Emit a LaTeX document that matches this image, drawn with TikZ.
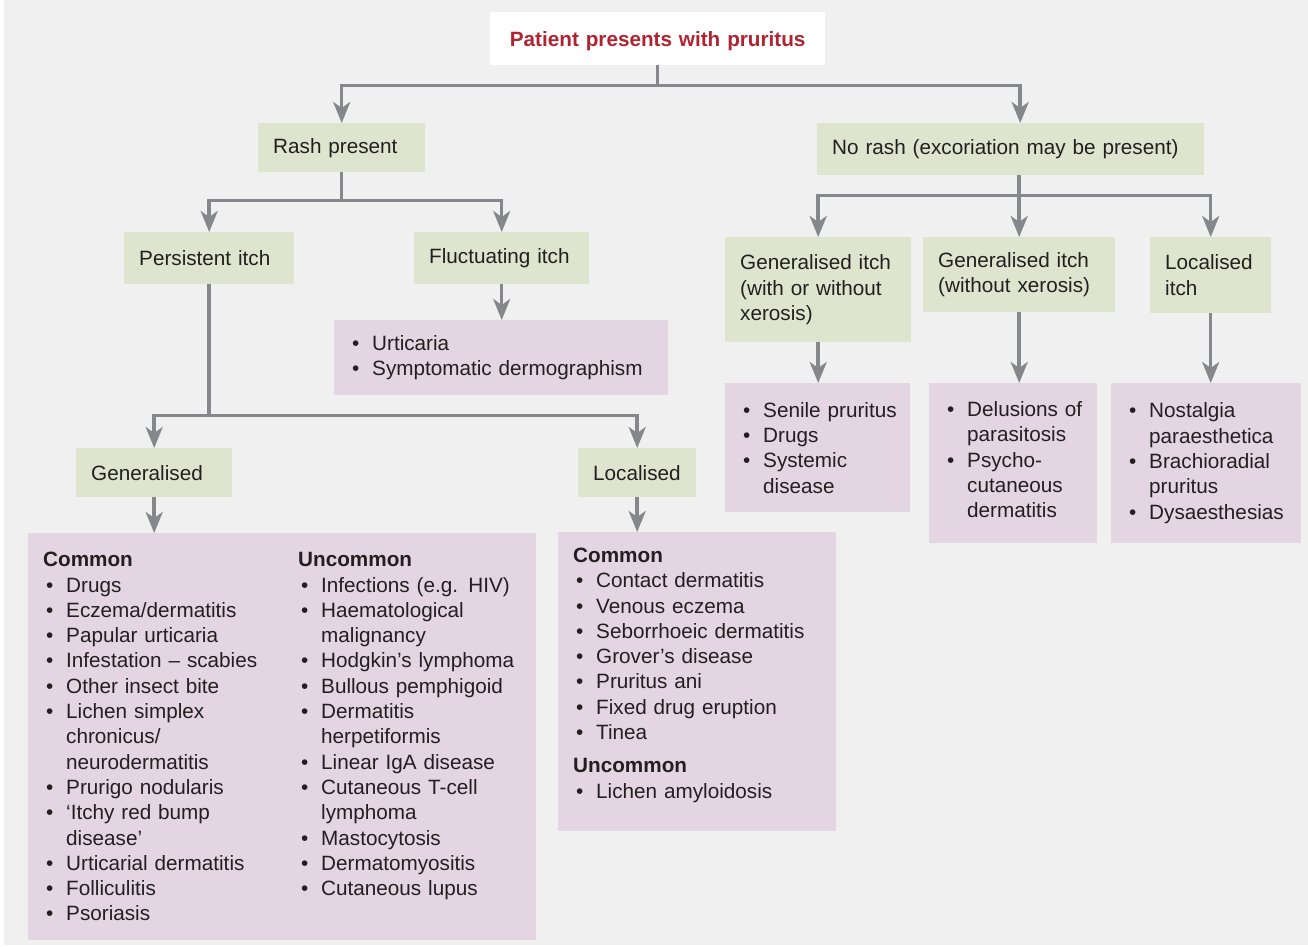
\documentclass[tikz,border=0pt]{standalone}
\usepackage{fontspec}
\setmainfont{Liberation Sans}
\usetikzlibrary{arrows.meta}

\definecolor{pagegrey}{RGB}{240,240,240}
\definecolor{boxgreen}{RGB}{223,228,206}
\definecolor{boxpurple}{RGB}{227,213,226}
\definecolor{linegrey}{RGB}{134,135,139}
\definecolor{titlered}{RGB}{176,36,49}
\definecolor{textdark}{RGB}{35,31,32}

\hyphenpenalty=10000
\exhyphenpenalty=10000

\newcommand\bul{\makebox[23pt][l]{\hspace{3pt}\textbullet}}
\newcommand\ind{\hspace*{23pt}}

\begin{document}
\begin{tikzpicture}[x=1pt, y=-1pt,
    every node/.style={font=\fontsize{20.7}{25.3}\selectfont, text=textdark},
    box/.style={anchor=north west, inner xsep=15pt, inner ysep=3pt, align=left},
    greenbox/.style={box, fill=boxgreen},
    purplebox/.style={box, fill=boxpurple},
    bar/.style={draw=linegrey, line width=3.5pt},
    arr/.style={bar, -{Stealth[length=21pt, width=17pt, inset=6pt]}}]

  \useasboundingbox (0,0) rectangle (1308,946);
  \fill[pagegrey] (4,0) rectangle (1308,945);

  % top
  \node[box, fill=white, text width=305pt, minimum height=53pt, align=center, text=titlered, text depth=0pt,
        font=\bfseries\fontsize{20.7}{25.3}\selectfont] (title) at (490,12) {Patient presents with pruritus};

  \node[greenbox, text width=137pt, minimum height=49pt] (rash) at (258,123) {Rash present};
  \node[greenbox, text width=357pt, minimum height=52pt] (norash) at (817,123) {No rash (excoriation may be present)};

  % rash branch
  \node[greenbox, text width=140pt, minimum height=52pt] (persist) at (124,232) {Persistent itch};
  \node[greenbox, text width=145pt, minimum height=52pt] (fluct) at (414,232) {Fluctuating itch};
  \node[purplebox, text width=304pt, minimum height=75pt] (urtic) at (334,320)
    {\bul Urticaria\\ \bul Symptomatic dermographism};

  \node[greenbox, text width=126pt, minimum height=49pt] (gen) at (76,448) {Generalised};
  \node[greenbox, text width=88pt, minimum height=49pt] (loc) at (578,448) {Localised};

  \node[purplebox, text width=478pt, minimum height=407pt] (genlist) at (28,533)
    {\noindent\parbox[t]{255pt}{\textbf{Common}\\
      \bul Drugs\\
      \bul Eczema/dermatitis\\
      \bul Papular urticaria\\
      \bul Infestation -- scabies\\
      \bul Other insect bite\\
      \bul Lichen simplex\\
      \ind chronicus/\\
      \ind neurodermatitis\\
      \bul Prurigo nodularis\\
      \bul `Itchy red bump\\
      \ind disease'\\
      \bul Urticarial dermatitis\\
      \bul Folliculitis\\
      \bul Psoriasis}%
     \parbox[t]{223pt}{\textbf{Uncommon}\\
      \bul Infections (e.g. HIV)\\
      \bul Haematological\\
      \ind malignancy\\
      \bul Hodgkin's~lymphoma\\
      \bul Bullous pemphigoid\\
      \bul Dermatitis\\
      \ind herpetiformis\\
      \bul Linear IgA disease\\
      \bul Cutaneous T-cell\\
      \ind lymphoma\\
      \bul Mastocytosis\\
      \bul Dermatomyositis\\
      \bul Cutaneous lupus}};

  \node[purplebox, text width=248pt, minimum height=299pt] (loclist) at (558,532)
    {\textbf{Common}\\
     \bul Contact dermatitis\\
     \bul Venous eczema\\
     \bul Seborrhoeic dermatitis\\
     \bul Grover's disease\\
     \bul Pruritus ani\\
     \bul Fixed drug eruption\\
     \bul Tinea\\[8pt]
     \textbf{Uncommon}\\
     \bul Lichen amyloidosis\\[-8pt]\mbox{}};

  % no rash branch
  \node[greenbox, text width=156pt, minimum height=105pt] (gi1) at (725,237)
    {\mbox{Generalised itch}\\ (with or without\\ xerosis)};
  \node[greenbox, text width=162pt, minimum height=75pt] (gi2) at (923,237)
    {\mbox{Generalised itch}\\ (without xerosis)};
  \node[greenbox, text width=91pt, minimum height=76pt] (li) at (1150,237)
    {Localised\\ itch};

  \node[purplebox, text width=155pt, minimum height=129pt] (pl1) at (725,383)
    {\bul \mbox{Senile pruritus}\\ \bul Drugs\\ \bul Systemic\\ \ind disease};
  \node[purplebox, text width=138pt, minimum height=160pt] (pl2) at (929,383)
    {\bul \mbox{Delusions of}\\ \ind parasitosis\\ \bul Psycho-\\ \ind cutaneous\\ \ind dermatitis\\[-18pt]\mbox{}};
  \node[purplebox, text width=160pt, minimum height=160pt] (pl3) at (1111,383)
    {\bul Nostalgia\\ \ind paraesthetica\\ \bul Brachioradial\\ \ind pruritus\\ \bul Dysaesthesias};

  % connectors
  \draw[bar] (title.south) -- ++(0,20) coordinate (tj);
  \draw[arr] (tj) -| (rash.north);
  \draw[arr] (tj) -| ([xshift=9.5pt]norash.north);

  \draw[bar] (rash.south) -- ++(0,28) coordinate (rj);
  \draw[arr] (rj) -| (persist.north);
  \draw[arr] (rj) -| (fluct.north);
  \draw[arr] (fluct.south) -- (fluct.south |- urtic.north);

  \draw[bar] (persist.south) -- ++(0,131) coordinate (pj);
  \draw[arr] (pj) -| (gen.north);
  \draw[arr] (pj) -| (loc.north);
  \draw[arr] (gen.south) -- (gen.south |- genlist.north);
  \draw[arr] (loc.south) -- (loc.south |- loclist.north);

  \draw[bar] ([xshift=8.5pt]norash.south) -- ++(0,20) coordinate (nj);
  \draw[arr] (nj) -| (gi1.north);
  \draw[arr] (nj) -| (gi2.north);
  \draw[arr] (nj) -| (li.north);
  \draw[arr] (gi1.south) -- (gi1.south |- pl1.north);
  \draw[arr] (gi2.south) -- (gi2.south |- pl2.north);
  \draw[arr] (li.south) -- (li.south |- pl3.north);
\end{tikzpicture}
\end{document}
